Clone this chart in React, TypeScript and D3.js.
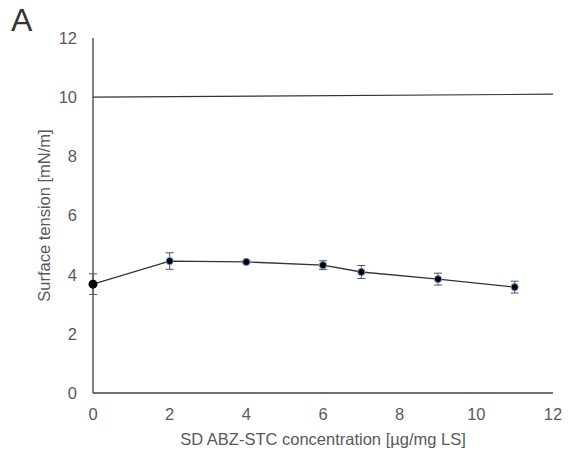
import React from 'react';
import * as d3 from 'd3';

// concentration [µg/mg LS] and surface tension [mN/m]
const concentrations = [0, 2, 4, 6, 7, 9, 11];
const tension = [3.68, 4.46, 4.43, 4.32, 4.09, 3.85, 3.58];
const tensionErr = [0.35, 0.28, 0.05, 0.15, 0.22, 0.2, 0.2];
// reference line
const refX = [0, 12];
const refY = [10, 10.1];
const xTicks = [0, 2, 4, 6, 8, 10, 12];
const yTicks = [0, 2, 4, 6, 8, 10, 12];

const App = () => {
  const width = 568;
  const height = 458;
  const margin = { top: 38, right: 15, bottom: 65, left: 93 };

  const x = d3.scaleLinear().domain([0, 12]).range([margin.left, width - margin.right]);
  const y = d3.scaleLinear().domain([0, 12]).range([height - margin.bottom, margin.top]);

  const line = d3.line<number>()
    .x((_, i) => x(concentrations[i]))
    .y(d => y(d));
  const refLine = d3.line<number>()
    .x((_, i) => x(refX[i]))
    .y(d => y(d));

  const font = '"Liberation Sans", Arial, sans-serif';
  const tickColor = '#595959';

  return (
    <svg width={width} height={height} style={{ position: 'absolute', left: 0, top: 0, fontFamily: font }}>
      <text x={11} y={31} fontSize={32} fill="#333">A</text>

      {/* axes */}
      <line x1={x(0)} x2={x(0)} y1={y(12)} y2={y(0)} stroke="#404040" strokeWidth={1.3} />
      <line x1={x(0)} x2={x(12)} y1={y(0)} y2={y(0)} stroke="#404040" strokeWidth={1.3} />

      {yTicks.map(t => (
        <text key={'y' + t} x={x(0) - 16} y={y(t)} dy="0.36em" textAnchor="end" fontSize={16.5} fill={tickColor}>{t}</text>
      ))}
      {xTicks.map(t => (
        <text key={'x' + t} x={x(t)} y={y(0) + 27} textAnchor="middle" fontSize={16.5} fill={tickColor}>{t}</text>
      ))}

      <text transform={`translate(50,${(y(0) + y(12)) / 2}) rotate(-90)`} textAnchor="middle" fontSize={16.5} fill={tickColor}>
        Surface tension [mN/m]
      </text>
      <text x={(x(0) + x(12)) / 2} y={445} textAnchor="middle" fontSize={16.5} fill={tickColor}>
        SD ABZ-STC concentration [µg/mg LS]
      </text>

      <path d={refLine(refY) ?? ''} fill="none" stroke="#333" strokeWidth={1.2} />
      <path d={line(tension) ?? ''} fill="none" stroke="#333" strokeWidth={1.3} />

      {tension.map((v, i) => {
        const cx = x(concentrations[i]);
        const hi = y(v + tensionErr[i]);
        const lo = y(v - tensionErr[i]);
        return (
          <g key={i} stroke="#555" strokeWidth={1}>
            <line x1={cx} x2={cx} y1={hi} y2={lo} />
            <line x1={cx - 4} x2={cx + 4} y1={hi} y2={hi} />
            <line x1={cx - 4} x2={cx + 4} y1={lo} y2={lo} />
          </g>
        );
      })}
      {tension.map((v, i) => (
        <circle
          key={'c' + i}
          cx={x(concentrations[i])}
          cy={y(v)}
          r={i === 0 ? 4.5 : 3.6}
          fill="#000"
          stroke={i === 0 ? 'none' : '#5b9bd5'}
          strokeWidth={1}
        />
      ))}
    </svg>
  );
};

export default App;
